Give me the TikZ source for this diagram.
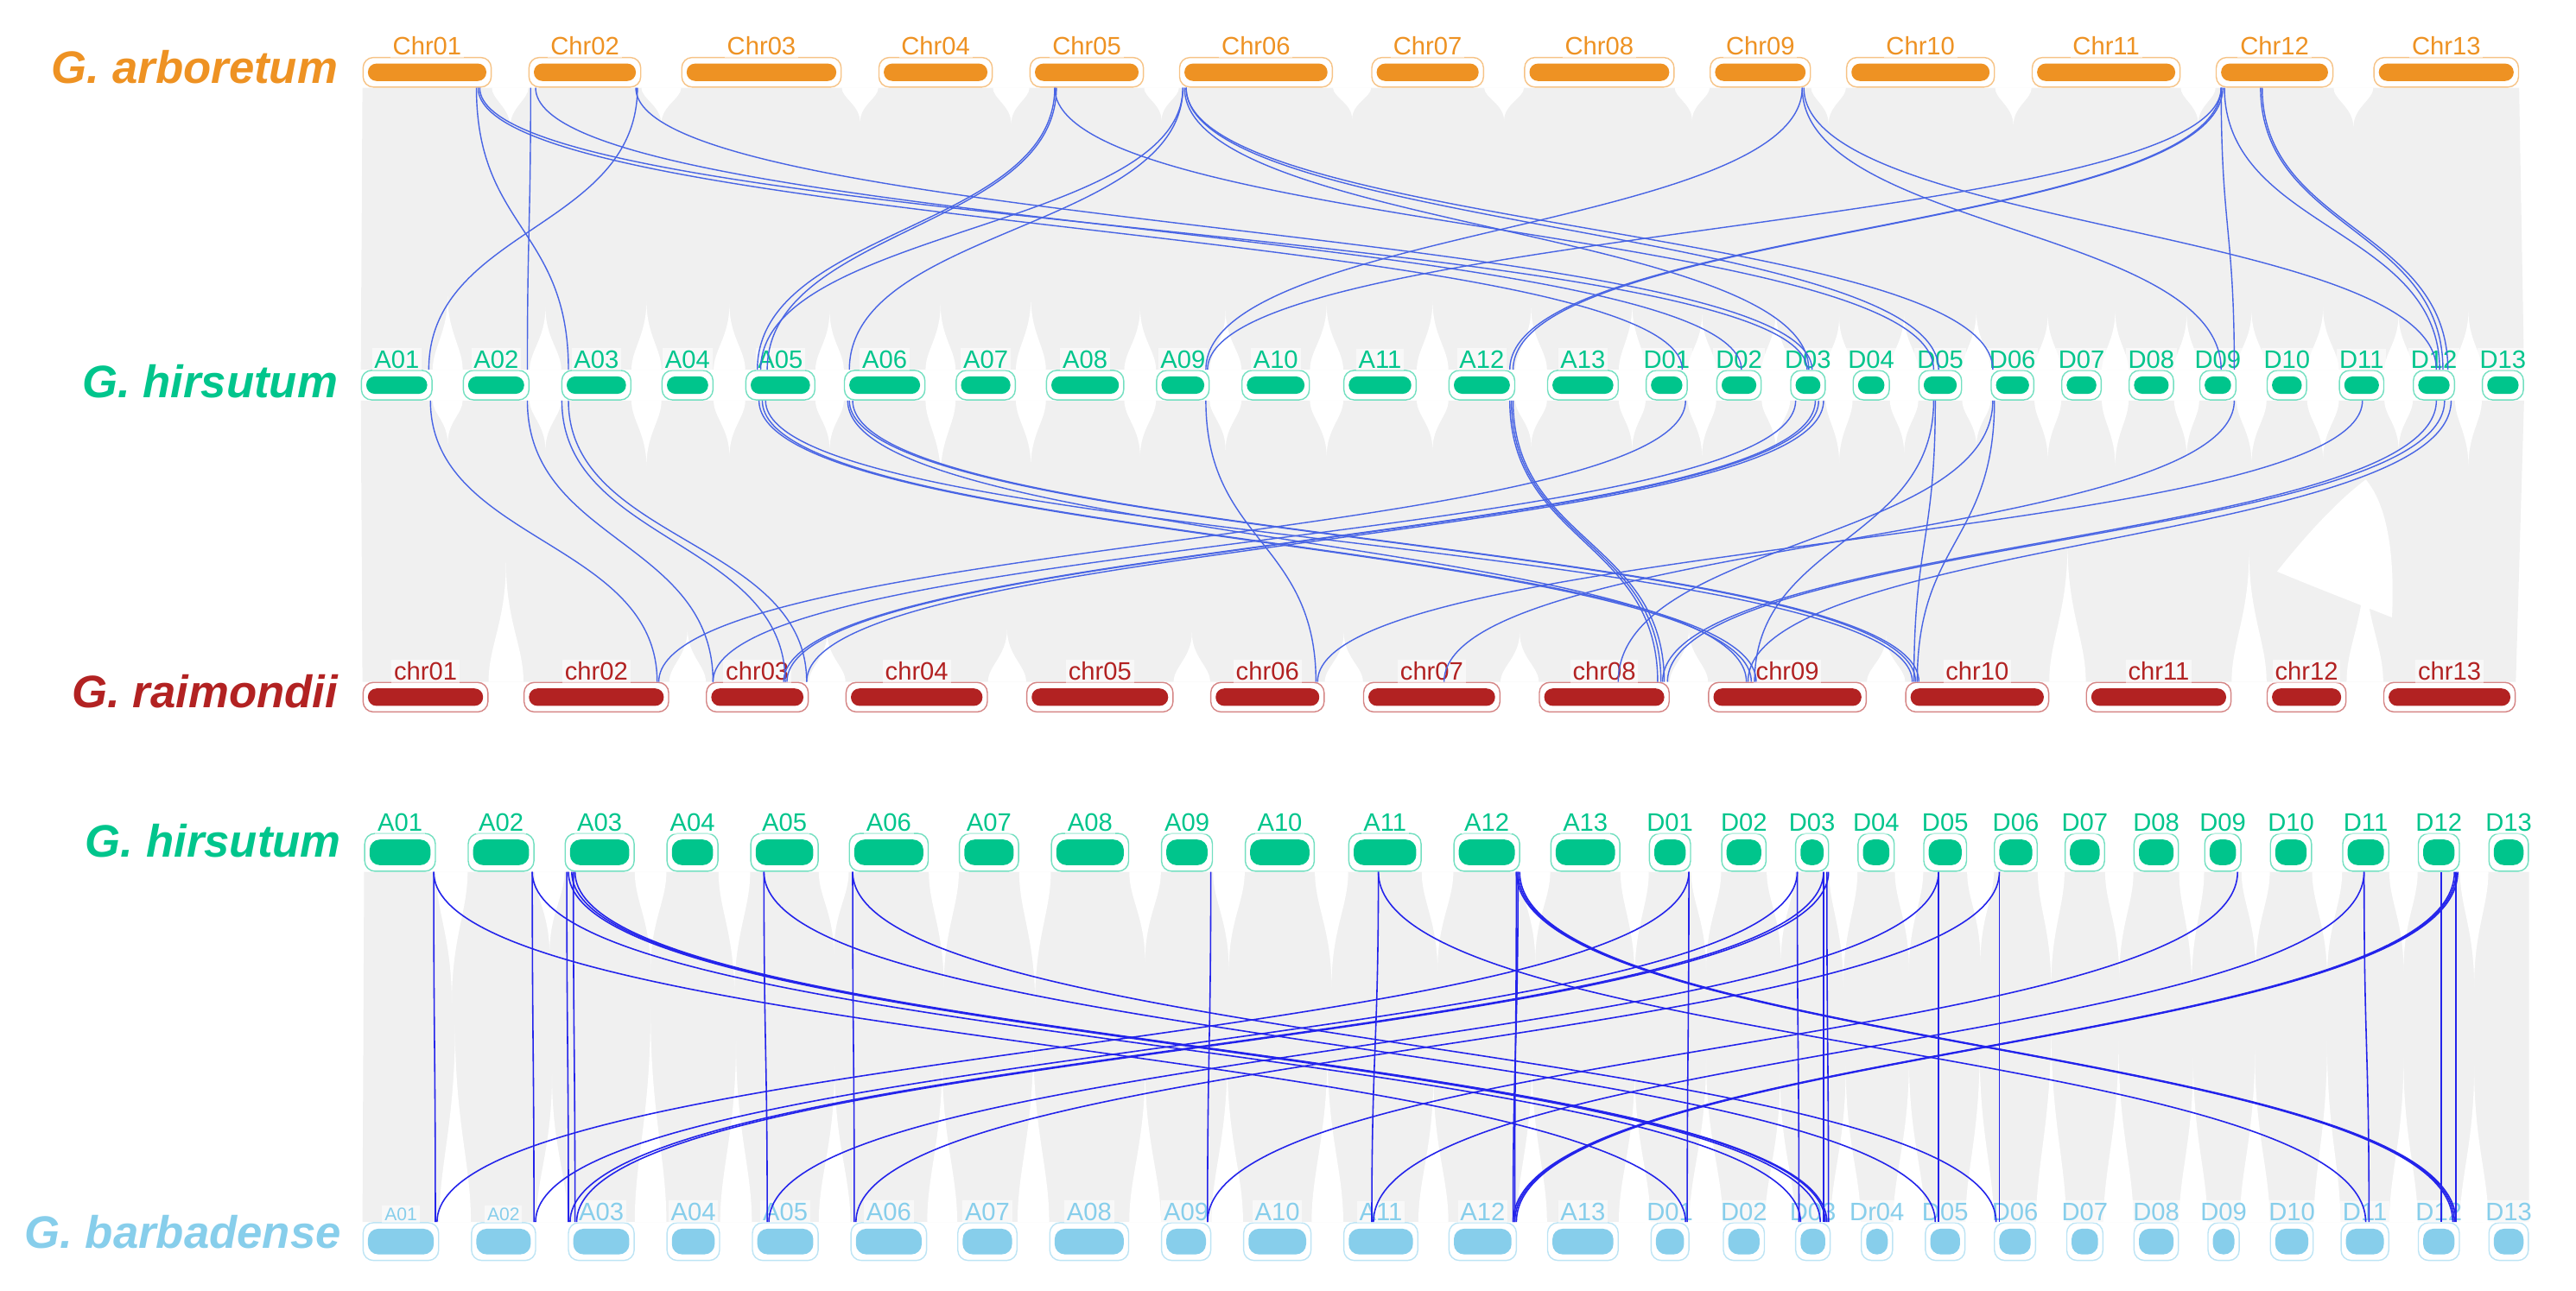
\documentclass[tikz,border=0pt]{standalone}
\usepackage{fontspec}
\setmainfont{Liberation Sans}
\usetikzlibrary{calc}
\definecolor{gaorange}{RGB}{238,146,35}
\definecolor{hugreen}{RGB}{0,197,140}
\definecolor{grred}{RGB}{178,34,34}
\definecolor{gbblue}{RGB}{135,206,235}
\definecolor{linkgray}{RGB}{240,240,240}
\definecolor{linkblue}{RGB}{72,100,228}
\definecolor{linkdeep}{RGB}{35,35,235}
\newcommand\pxu{0.019018cm}
\pgfdeclarelayer{bg}
\pgfsetlayers{bg,main}
\tikzset{
  chrom/.style 2 args={draw=#1!55, line width=0.4pt, fill=white, rounded corners=3.4pt, inner sep=0pt,
    path picture={\fill[#1, rounded corners=#2] ([xshift=1.6pt,yshift=-2pt]path picture bounding box.north west) rectangle ([xshift=-1.6pt,yshift=2pt]path picture bounding box.south east);}},
  chrlab/.style={font=\fontsize{8.3}{9}\selectfont, inner sep=0.8pt, fill=white, fill opacity=0.55, text opacity=1, anchor=south},
  spec/.style={font=\fontsize{15}{18}\selectfont\bfseries\itshape, anchor=east, inner sep=0pt},
  syn/.style={to path={.. controls +(0,#1) and +(0,-#1) .. (\tikztotarget)}},
  alink/.style={linkblue, line width=0.4pt},
  blink/.style={linkdeep, line width=0.45pt}
}
% white tapered gaps between neighbouring chromosomes
\newcommand\gapbelow[3]{%
  \fill[white] (#1.south east) .. controls +(0,{0.3*#3}) and +(0,{-0.5*#3}) .. ($(#1.south east)!.5!(#2.south west)+(0,#3)$) .. controls +(0,{-0.5*#3}) and +(0,{0.3*#3}) .. (#2.south west) -- cycle;}
\newcommand\gapabove[3]{%
  \fill[white] (#1.north east) .. controls +(0,{-0.3*#3}) and +(0,{0.5*#3}) .. ($(#1.north east)!.5!(#2.north west)-(0,#3)$) .. controls +(0,{0.5*#3}) and +(0,{-0.3*#3}) .. (#2.north west) -- cycle;}
\begin{document}
\begin{tikzpicture}[x=\pxu, y=-\pxu]
  \useasboundingbox (0,0) rectangle (1568,785.6);
  % G. arboretum
  \foreach \n/\xa/\xb/\lbl in {1/221/299/Chr01, 2/322/390/Chr02, 3/415/512/Chr03, 4/535/604/Chr04, 5/627/696/Chr05, 6/718/811/Chr06, 7/835/903/Chr07, 8/928/1019/Chr08, 9/1041/1102/Chr09, 10/1124/1214/Chr10, 11/1237/1327/Chr11, 12/1349/1420/Chr12, 13/1445/1533/Chr13}{
    \node[chrom={gaorange}{2.8pt}, minimum width={(\xb-\xa)*\pxu}, minimum height=18*\pxu] (ga\n) at ({(\xa+\xb)/2},44) {};
    \node[chrlab, text=gaorange] (gal\n) at ([yshift=-0.5pt]ga\n.north) {\lbl};
  }
  % G. hirsutum (upper)
  \foreach \n/\xa/\xb/\lbl in {1/220/263/A01, 2/282/322/A02, 3/342/384/A03, 4/403/434/A04, 5/454/496/A05, 6/514/563/A06, 7/582/618/A07, 8/637/684/A08, 9/704/736/A09, 10/756/797/A10, 11/818/862/A11, 12/882/922/A12, 13/942/985/A13, 14/1002/1027/D01, 15/1045/1072/D02, 16/1090/1111/D03, 17/1128/1150/D04, 18/1168/1194/D05, 19/1212/1238/D06, 20/1255/1279/D07, 21/1296/1323/D08, 22/1339/1361/D09, 23/1380/1404/D10, 24/1424/1451/D11, 25/1469/1494/D12, 26/1511/1536/D13}{
    \node[chrom={hugreen}{2.8pt}, minimum width={(\xb-\xa)*\pxu}, minimum height=18*\pxu] (hu\n) at ({(\xa+\xb)/2},234.5) {};
    \node[chrlab, text=hugreen] (hul\n) at ([yshift=-0.5pt]hu\n.north) {\lbl};
  }
  % G. raimondii
  \foreach \n/\xa/\xb/\lbl in {1/221/297/chr01, 2/319/407/chr02, 3/430/492/chr03, 4/515/601/chr04, 5/625/714/chr05, 6/737/806/chr06, 7/830/913/chr07, 8/937/1016/chr08, 9/1040/1136/chr09, 10/1160/1247/chr10, 11/1270/1358/chr11, 12/1380/1428/chr12, 13/1451/1531/chr13}{
    \node[chrom={grred}{2.8pt}, minimum width={(\xb-\xa)*\pxu}, minimum height=18*\pxu] (gr\n) at ({(\xa+\xb)/2},424.5) {};
    \node[chrlab, text=grred] (grl\n) at ([yshift=-0.5pt]gr\n.north) {\lbl};
  }
  % G. hirsutum (lower)
  \foreach \n/\xa/\xb/\lbl in {1/222/265/A01, 2/285/325/A02, 3/344/386/A03, 4/406/437/A04, 5/457/498/A05, 6/517/565/A06, 7/584/620/A07, 8/640/687/A08, 9/707/738/A09, 10/758/800/A10, 11/821/865/A11, 12/885/925/A12, 13/944/986/A13, 14/1004/1029/D01, 15/1048/1075/D02, 16/1093/1113/D03, 17/1131/1153/D04, 18/1171/1197/D05, 19/1214/1240/D06, 20/1257/1281/D07, 21/1299/1326/D08, 22/1342/1364/D09, 23/1382/1407/D10, 24/1426/1454/D11, 25/1472/1497/D12, 26/1515/1539/D13}{
    \node[chrom={hugreen}{3.4pt}, minimum width={(\xb-\xa)*\pxu}, minimum height=23*\pxu] (hl\n) at ({(\xa+\xb)/2},519) {};
    \node[chrlab, text=hugreen] (hll\n) at ([yshift=-0.5pt]hl\n.north) {\lbl};
  }
  % G. barbadense
  \foreach \n/\xa/\xb/\lbl/\fs in {1/221/267/A01/6, 2/287/326/A02/6, 3/346/386/A03/8.3, 4/406/438/A04/8.3, 5/458/498/A05/8.3, 6/518/564/A06/8.3, 7/583/619/A07/8.3, 8/639/687/A08/8.3, 9/707/737/A09/8.3, 10/757/798/A10/8.3, 11/818/863/A11/8.3, 12/882/923/A12/8.3, 13/942/985/A13/8.3, 14/1005/1028/D01/8.3, 15/1049/1074/D02/8.3, 16/1093/1114/D03/8.3, 17/1133/1152/Dr04/8.3, 18/1172/1196/D05/8.3, 19/1214/1239/D06/8.3, 20/1258/1280/D07/8.3, 21/1299/1326/D08/8.3, 22/1344/1363/D09/8.3, 23/1382/1408/D10/8.3, 24/1425/1454/D11/8.3, 25/1472/1497/D12/8.3, 26/1515/1539/D13/8.3}{
    \node[chrom={gbblue}{3.4pt}, minimum width={(\xb-\xa)*\pxu}, minimum height=23*\pxu] (gb\n) at ({(\xa+\xb)/2},756) {};
    \node[chrlab, text=gbblue, font=\fontsize{\fs}{9}\selectfont] (gbl\n) at ([yshift=-0.5pt]gb\n.north) {\lbl};
  }
  % species names
  \node[spec, text=gaorange] (spga) at (206,41) {G. arboretum};
  \node[spec, text=hugreen] (sphu) at (206,232) {G. hirsutum};
  \node[spec, text=grred] (spgr) at (206,421) {G. raimondii};
  \node[spec, text=hugreen] (sphl) at (208,512) {G. hirsutum};
  \node[spec, text=gbblue] (spgb) at (208,750) {G. barbadense};

  \begin{pgfonlayer}{bg}
    % gray collinear blocks
    \fill[linkgray] (ga1.south west) -- (ga13.south east) -- (hu26.north east) -- (hu1.north west) -- cycle;
    \fill[linkgray] (hu1.south west) -- (hu26.south east) -- (gr13.north east) -- (gr1.north west) -- cycle;
    \fill[linkgray] (hl1.south west) -- (hl26.south east) -- (gb26.north east) -- (gb1.north west) -- cycle;
    \foreach \i/\j/\d in {1/2/24, 2/3/22, 3/4/21, 4/5/22, 5/6/20, 6/7/19, 7/8/20, 8/9/20, 9/10/22, 10/11/23, 11/12/22, 12/13/24}
      \gapbelow{ga\i}{ga\j}{\d};
    \foreach \i/\j/\d in {1/2/45, 2/3/38, 3/4/42, 4/5/40, 5/6/36, 6/7/40, 7/8/44, 8/9/38, 9/10/36, 10/11/40, 11/12/42, 12/13/38, 13/14/40, 14/15/34, 15/16/36, 16/17/32, 17/18/34, 18/19/36, 19/20/34, 20/21/36, 21/22/34, 22/23/36, 23/24/38, 24/25/34, 25/26/36}
      \gapabove{hu\i}{hu\j}{\d};
    \foreach \i/\j/\d in {1/2/26, 2/3/30, 3/4/40, 4/5/34, 5/6/30, 6/7/46, 7/8/40, 8/9/34, 9/10/30, 10/11/34, 11/12/30, 12/13/28, 13/14/30, 14/15/34, 15/16/30, 16/17/38, 17/18/32, 18/19/28, 19/20/36, 20/21/40, 21/22/34, 22/23/38, 23/24/36, 24/25/30, 25/26/40}
      \gapbelow{hu\i}{hu\j}{\d};
    \foreach \i/\j/\d in {1/2/73, 2/3/32, 3/4/30, 4/5/32, 5/6/30, 6/7/30, 7/8/30, 8/9/32, 9/10/28, 10/11/84, 11/12/80, 12/13/75}
      \gapabove{gr\i}{gr\j}{\d};
    \foreach \i/\j/\d in {1/2/80, 2/3/50, 3/4/60, 4/5/75, 5/6/50, 6/7/70, 7/8/80, 8/9/55, 9/10/60, 10/11/70, 11/12/60, 12/13/55, 13/14/65, 14/15/60, 15/16/55, 16/17/70, 17/18/60, 18/19/55, 19/20/70, 20/21/65, 21/22/70, 22/23/60, 23/24/65, 24/25/60, 25/26/70}
      \gapbelow{hl\i}{hl\j}{\d};
    \foreach \i/\j/\d in {1/2/120, 2/3/90, 3/4/130, 4/5/110, 5/6/95, 6/7/100, 7/8/110, 8/9/95, 9/10/100, 10/11/105, 11/12/90, 12/13/100, 13/14/95, 14/15/100, 15/16/90, 16/17/95, 17/18/100, 18/19/105, 19/20/120, 20/21/110, 21/22/100, 22/23/105, 23/24/110, 24/25/100, 25/26/95}
      \gapabove{gb\i}{gb\j}{\d};
    % open area on the right of the middle block
    \fill[white] (1386,348) .. controls (1405,324) and (1424,304) .. (1440,292) .. controls (1452,306) and (1458,334) .. (1456,376) .. controls (1436,368) and (1410,358) .. (1386,348) -- cycle;
  \end{pgfonlayer}

  % arboretum -- hirsutum
  \foreach \p/\xp/\q/\xq in {ga1/290/hu3/346, ga1/291/hu14/1024, ga1/292/hu16/1100, ga2/323/hu2/321, ga2/326/hu15/1060, ga2/388/hu1/261, ga2/387/hu16/1103, ga5/642/hu5/461, ga5/643/hu5/467, ga5/642/hu18/1177, ga6/720/hu6/517, ga6/720/hu5/463, ga6/721/hu16/1101, ga6/722/hu18/1180, ga6/722/hu19/1213, ga9/1097/hu9/734, ga9/1097/hu22/1352, ga9/1098/hu25/1483, ga12/1352/hu9/735, ga12/1352/hu12/919, ga12/1353/hu12/921, ga12/1352/hu22/1360, ga12/1354/hu25/1485, ga12/1376/hu25/1487, ga12/1377/hu25/1490}
    \draw[alink] (\p.south -| \xp,0) to[syn=86] (\q.north -| \xq,0);
  % hirsutum -- raimondii
  \foreach \p/\xp/\q/\xq in {hu1/262/gr2/400, hu2/321/gr3/434, hu3/342/gr3/478, hu3/346/gr3/491, hu5/462/gr9/1066, hu5/464/gr9/1069, hu5/466/gr10/1164, hu6/516/gr9/1063, hu6/517/gr10/1166, hu6/519/gr10/1168, hu9/734/gr6/801, hu12/919/gr8/1009, hu12/920/gr8/1011, hu12/921/gr8/1013, hu14/1026/gr2/401, hu16/1093/gr3/434, hu16/1105/gr3/477, hu16/1107/gr3/479, hu16/1110/gr3/491, hu18/1178/gr10/1165, hu18/1177/gr9/1068, hu19/1214/gr10/1167, hu19/1213/gr8/985, hu22/1360/gr7/879, hu24/1438/gr6/802, hu25/1483/gr8/1012, hu25/1488/gr8/1015, hu25/1492/gr9/1064}
    \draw[alink] (\p.south -| \xp,0) to[syn=86] (\q.north -| \xq,0);
  % hirsutum -- barbadense
  \foreach \p/\xp/\q/\xq in {hl1/264/gb1/265, hl2/324/gb2/325, hl3/345/gb3/346, hl3/349/gb3/350, hl5/465/gb5/467, hl6/519/gb6/520, hl9/737/gb9/735, hl11/839/gb11/835, hl12/923/gb12/922, hl12/924/gb12/921, hl14/1028/gb14/1027, hl16/1094/gb16/1095, hl16/1110/gb16/1110, hl16/1112/gb16/1113, hl18/1180/gb18/1180, hl19/1217/gb19/1217, hl24/1439/gb24/1442, hl25/1486/gb25/1486, hl25/1495/gb25/1495,
      hl1/264/gb14/1026, hl2/324/gb16/1096, hl3/346/gb16/1108, hl3/348/gb16/1111, hl3/350/gb16/1112, hl5/465/gb18/1178, hl6/519/gb19/1215, hl11/839/gb24/1440, hl12/923/gb25/1493, hl12/924/gb25/1494, hl12/925/gb25/1495,
      hl14/1028/gb1/266, hl16/1094/gb2/326, hl16/1110/gb3/347, hl16/1113/gb3/351, hl18/1180/gb5/468, hl19/1217/gb6/521, hl22/1362/gb9/735, hl24/1439/gb11/836, hl25/1494/gb12/921, hl25/1495/gb12/922, hl25/1496/gb12/923}
    \draw[blink] (\p.south -| \xp,0) to[syn=107] (\q.north -| \xq,0);
\end{tikzpicture}
\end{document}
